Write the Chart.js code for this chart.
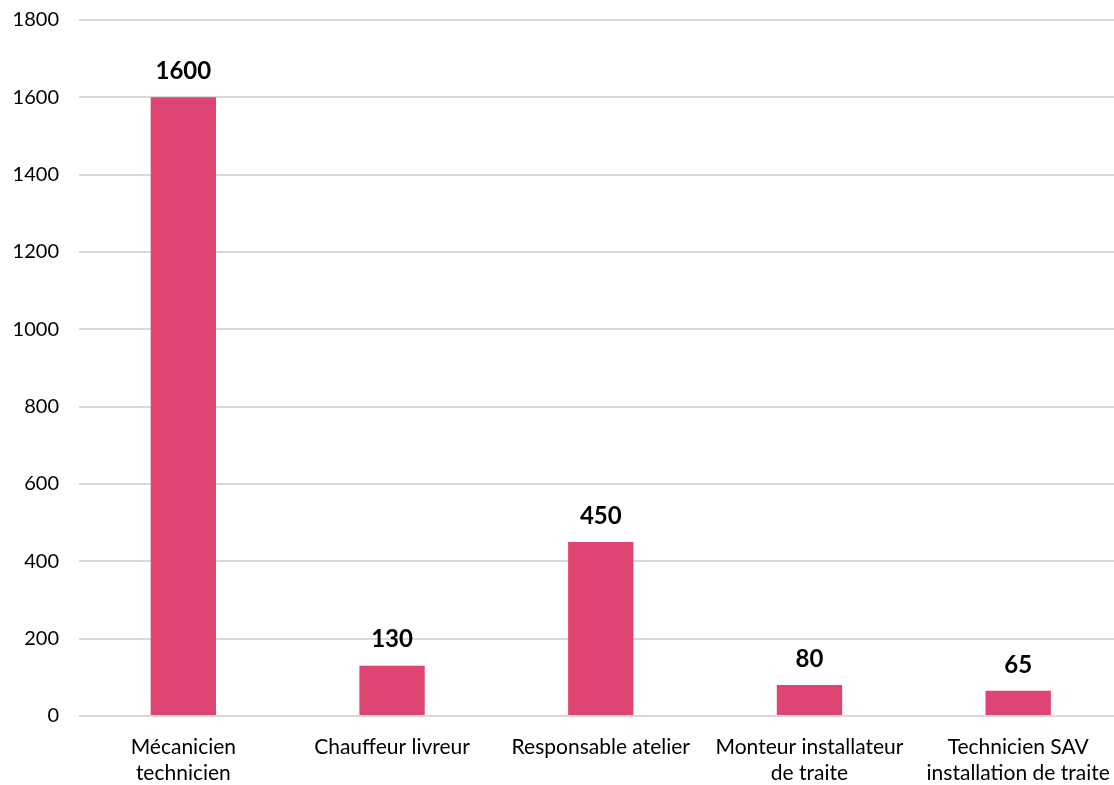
<!DOCTYPE html>
<html lang="fr">
<head>
<meta charset="utf-8">
<title>Postes</title>
<script src="https://cdn.jsdelivr.net/npm/chart.js@4/dist/chart.umd.min.js"></script>
<style>
    html, body { margin: 0; padding: 0; background: #fff; overflow: hidden; }
    #wrap { width: 1129px; height: 785px; position: relative; }
</style>
</head>
<body>
<div id="wrap"><canvas id="postesChart"></canvas></div>
<script>
// Data
const categories = [
    ['Mécanicien', 'technicien'],
    'Chauffeur livreur',
    'Responsable atelier',
    ['Monteur installateur', 'de traite'],
    ['Technicien SAV', 'installation de traite']
];
const values = [1600, 130, 450, 80, 65];
const yTicks = [0, 200, 400, 600, 800, 1000, 1200, 1400, 1600, 1800];

const FONT = "Lato, 'Open Sans', sans-serif";

// Value labels above each bar
const valueLabels = {
    id: 'valueLabels',
    afterDatasetsDraw(chart) {
        const ctx = chart.ctx;
        const meta = chart.getDatasetMeta(0);
        ctx.save();
        ctx.font = 'bold 24px ' + FONT;
        ctx.fillStyle = '#000';
        ctx.textAlign = 'center';
        ctx.textBaseline = 'bottom';
        meta.data.forEach(function(bar, i) {
            ctx.fillText(String(values[i]), bar.x, bar.y - 14);
        });
        ctx.restore();
    }
};

document.addEventListener('DOMContentLoaded', function() {
    const ctx = document.getElementById('postesChart');

    new Chart(ctx, {
        type: 'bar',
        data: {
            labels: categories,
            datasets: [{
                data: values,
                backgroundColor: '#DE4573',
                borderWidth: 0,
                categoryPercentage: 1,
                barPercentage: 0.313
            }]
        },
        options: {
            responsive: true,
            maintainAspectRatio: false,
            animation: false,
            layout: { padding: { top: 0, right: 2, bottom: 0, left: 1 } },
            plugins: {
                legend: { display: false },
                tooltip: { enabled: false }
            },
            scales: {
                x: {
                    afterFit: function(axis) { axis.height = 69; },
                    grid: { display: false, drawTicks: false },
                    border: { display: false },
                    ticks: {
                        color: '#000',
                        font: { family: FONT, size: 21, lineHeight: 1.2 },
                        padding: 19,
                        maxRotation: 0,
                        autoSkip: false
                    }
                },
                y: {
                    min: 0,
                    max: 1800,
                    afterBuildTicks: function(axis) {
                        axis.ticks = yTicks.map(function(v) { return { value: v }; });
                    },
                    afterFit: function(axis) { axis.width = 78; },
                    grid: {
                        color: '#D9D9D9',
                        lineWidth: 2,
                        drawTicks: true,
                        tickLength: 12,
                        tickColor: 'rgba(0,0,0,0)'
                    },
                    border: { display: false },
                    ticks: {
                        color: '#000',
                        font: { family: FONT, size: 20 },
                        padding: 8,
                        callback: function(value) { return String(value); }
                    }
                }
            }
        },
        plugins: [valueLabels]
    });
});
</script>
</body>
</html>
